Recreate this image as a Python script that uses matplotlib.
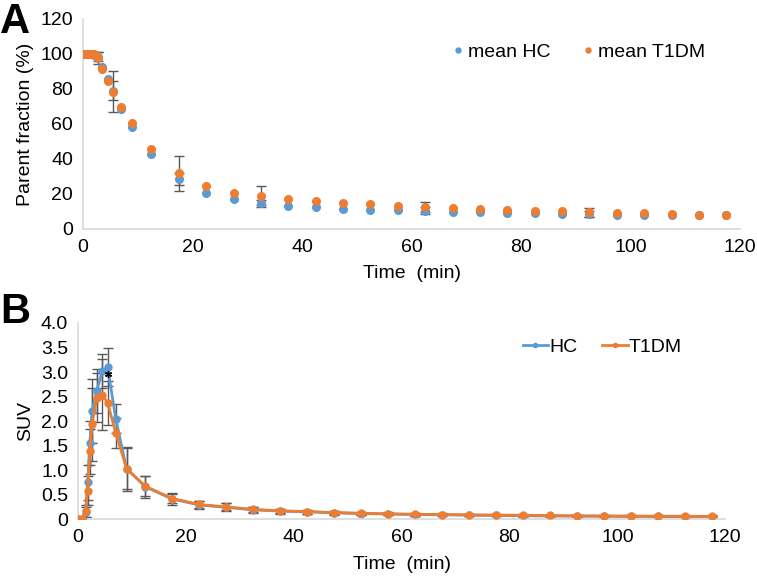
import matplotlib.pyplot as plt
import numpy as np

plt.rcParams['font.family'] = ['Liberation Sans', 'DejaVu Sans']

# Panel A: parent fraction (%)
t_a = np.array([0, 0.33, 0.67, 1.0, 1.33, 1.67, 2.0, 2.33, 2.67, 3.5, 4.5, 5.5, 7, 9,
                12.5, 17.5, 22.5, 27.5, 32.5, 37.5, 42.5, 47.5, 52.5, 57.5, 62.5,
                67.5, 72.5, 77.5, 82.5, 87.5, 92.5, 97.5, 102.5, 107.5, 112.5, 117.5])
hc_a = np.array([100, 100, 100, 100, 100, 99.8, 99.5, 99, 98.5, 92.7, 85.5, 79, 68.8, 58,
                 42.7, 28.4, 20.8, 17.0, 14.7, 13.1, 12.6, 11.4, 10.9, 10.9, 10.5,
                 9.9, 9.9, 9.3, 9.3, 8.6, 8.6, 8.2, 8.2, 8.2, 7.8, 7.8])
t1dm_a = np.array([100, 100, 100, 100, 100, 100, 100, 99.5, 97.5, 91.4, 84.4, 78.5, 69.9, 60.8,
                   45.9, 31.8, 24.8, 20.8, 18.9, 17.1, 16.0, 14.9, 14.3, 13.3, 12.4,
                   12.0, 11.6, 10.9, 10.5, 10.5, 9.5, 9.3, 9.3, 8.4, 7.8, 7.8])
# error bars only shown at a few time points (nan = none)
nan = np.nan
hc_a_err = np.array([nan] * 8 + [2.5, nan, nan, 5.5, nan, nan, nan, 3.5, nan, nan, 2.0,
                     nan, nan, nan, nan, nan, 2.0, nan, nan, nan, nan, nan, 1.5,
                     nan, nan, nan, nan, nan])
t1dm_a_err = np.array([nan] * 8 + [3.5, nan, nan, 11.5, nan, nan, nan, 10.0, nan, nan, 5.5,
                       nan, nan, nan, nan, nan, 3.0, nan, nan, nan, nan, nan, 2.5,
                       nan, nan, nan, nan, nan])

# Panel B: SUV time-activity curves
t_b = np.array([0, 0.75, 1.4, 1.8, 2.2, 2.6, 3.5, 4.5, 5.5, 7, 9,
                12.5, 17.5, 22.5, 27.5, 32.5, 37.5, 42.5, 47.5, 52.5, 57.5, 62.5,
                67.5, 72.5, 77.5, 82.5, 87.5, 92.5, 97.5, 102.5, 107.5, 112.5, 117.5])
hc_b = np.array([0, 0.01, 0.15, 0.75, 1.55, 2.2, 2.62, 3.02, 3.1, 2.05, 1.03,
                 0.66, 0.41, 0.29, 0.24, 0.19, 0.165, 0.15, 0.13, 0.115, 0.105, 0.095,
                 0.09, 0.08, 0.075, 0.07, 0.065, 0.06, 0.06, 0.055, 0.055, 0.05, 0.05])
t1dm_b = np.array([0, 0.01, 0.16, 0.58, 1.38, 1.93, 2.48, 2.54, 2.37, 1.76, 1.03,
                   0.67, 0.42, 0.30, 0.25, 0.20, 0.17, 0.155, 0.135, 0.12, 0.11, 0.10,
                   0.095, 0.09, 0.085, 0.08, 0.075, 0.07, 0.065, 0.065, 0.06, 0.06, 0.055])
hc_b_err = np.array([0, 0, 0.1, 0.35, 0.45, 0.65, 0.45, 0.35, 0.38, 0.3, 0.45,
                     0.22, 0.12, 0.09, 0.08, 0.06, 0.05, 0.04, 0.04, 0.03, 0.03, 0.03,
                     0.03, 0.02, 0.02, 0.02, 0.02, 0.02, 0.02, 0.02, 0.02, 0.02, 0.02])
t1dm_b_err = np.array([0, 0, 0.12, 0.3, 0.45, 0.75, 0.5, 0.73, 0.45, 0.3, 0.42,
                       0.2, 0.1, 0.08, 0.07, 0.05, 0.04, 0.04, 0.03, 0.03, 0.03, 0.03,
                       0.02, 0.02, 0.02, 0.02, 0.02, 0.02, 0.02, 0.02, 0.02, 0.02, 0.02])
star_t, star_v = 5.5, 2.96

blue = '#5B9BD5'
orange = '#ED7D31'
errc = '#595959'
axc = '#D9D9D9'
fs = 14

fig = plt.figure(figsize=(7.57, 5.84), dpi=100)
ax1 = fig.add_axes([0.1096, 0.608, 0.868, 0.3595])
ax2 = fig.add_axes([0.103, 0.111, 0.855, 0.336])


def style(ax):
    for s in ['top', 'right']:
        ax.spines[s].set_visible(False)
    for s in ['left', 'bottom']:
        ax.spines[s].set_color(axc)
        ax.spines[s].set_linewidth(1.2)
    ax.tick_params(length=0, labelsize=fs, pad=7, colors='black')
    ax.set_xlim(0, 120)
    ax.set_xticks(np.arange(0, 121, 20))


# --- A ---
style(ax1)
m = ~np.isnan(hc_a_err)
ax1.errorbar(t_a[m], hc_a[m], yerr=hc_a_err[m], fmt='none', ecolor=errc, elinewidth=1, capsize=3.5, zorder=1)
m = ~np.isnan(t1dm_a_err)
ax1.errorbar(t_a[m], t1dm_a[m], yerr=t1dm_a_err[m], fmt='none', ecolor=errc, elinewidth=1, capsize=3.5, zorder=1)
ax1.plot(t_a, hc_a, 'o', color=blue, ms=5.5, label='mean HC', zorder=2)
ax1.plot(t_a, t1dm_a, 'o', color=orange, ms=5.5, label='mean T1DM', zorder=3)
ax1.set_ylim(0, 120)
ax1.set_yticks(np.arange(0, 121, 20))
ax1.set_ylabel('Parent fraction (%)', fontsize=fs, labelpad=5)
ax1.set_xlabel('Time  (min)', fontsize=fs, labelpad=7)
ax1.legend(loc='center', bbox_to_anchor=(0.752, 0.843), ncol=2, frameon=False, fontsize=fs,
           markerscale=0.65, handletextpad=0.05, columnspacing=1.5, handlelength=0.9)

# --- B ---
style(ax2)
ax2.errorbar(t_b, hc_b, yerr=hc_b_err, fmt='none', ecolor=errc, elinewidth=1, capsize=3.5, zorder=1)
ax2.errorbar(t_b, t1dm_b, yerr=t1dm_b_err, fmt='none', ecolor=errc, elinewidth=1, capsize=3.5, zorder=1)
ax2.plot(t_b, hc_b, '-o', color=blue, lw=2, ms=5, label='HC', zorder=2)
ax2.plot(t_b, t1dm_b, '-o', color=orange, lw=2, ms=5, label='T1DM', zorder=3)
ax2.plot(star_t, star_v, marker=(6, 2, 0), color='black', ms=5, mew=1, zorder=4)
ax2.set_ylim(0, 4.0)
yt = np.arange(0, 4.01, 0.5)
ax2.set_yticks(yt)
ax2.set_yticklabels(['0'] + ['%.1f' % v for v in yt[1:]])
ax2.set_ylabel('SUV', fontsize=fs, labelpad=5)
ax2.set_xlabel('Time  (min)', fontsize=fs, labelpad=7)
ax2.legend(loc='center', bbox_to_anchor=(0.81, 0.877), ncol=2, frameon=False, fontsize=fs,
           markerscale=0.6, handletextpad=0.05, columnspacing=1.3, handlelength=1.3)

fig.text(0.0, 0.996, 'A', fontsize=30, fontweight='bold', ha='left', va='top')
fig.text(0.0, 0.5, 'B', fontsize=30, fontweight='bold', ha='left', va='top')

fig.savefig('out.png', dpi=100)
